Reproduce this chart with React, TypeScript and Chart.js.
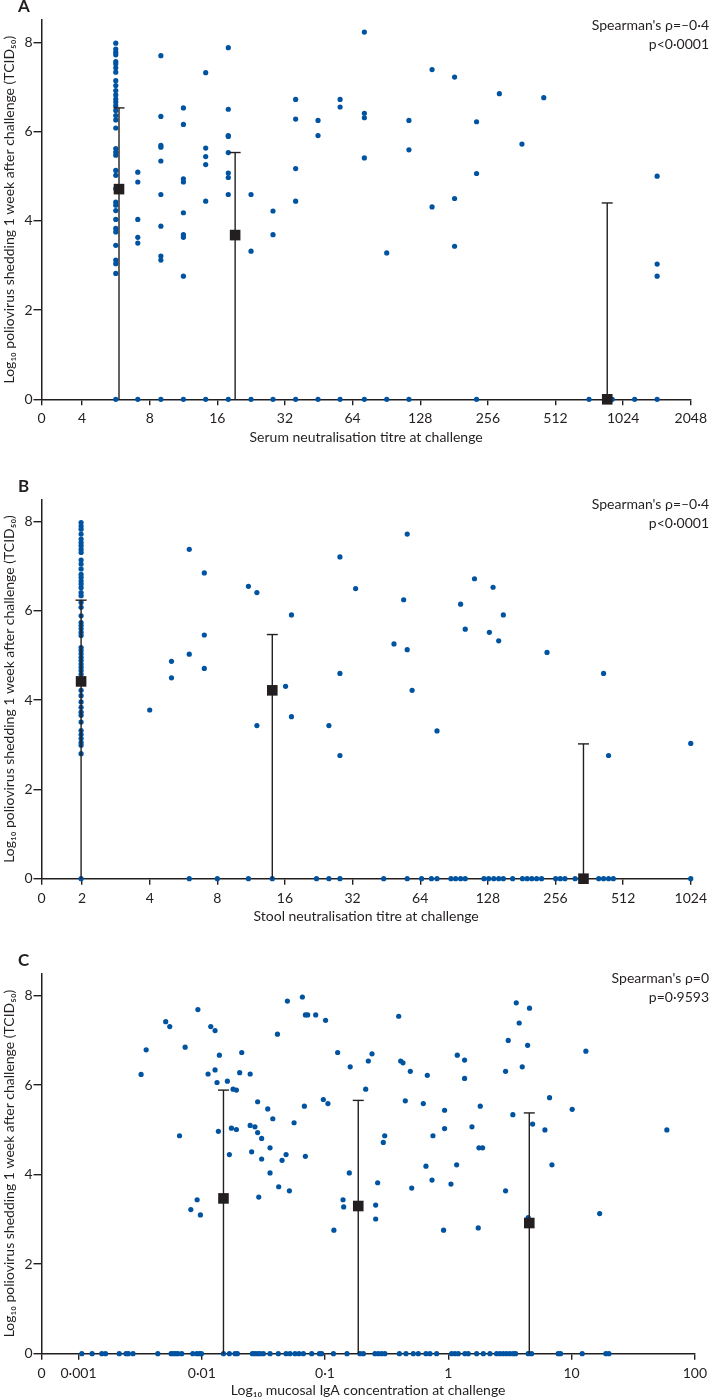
import { useEffect, useRef } from 'react';
import { Chart, registerables } from 'chart.js';

Chart.register(...registerables);

const INK = '#231f20';
const DOT = '#0053a0';
const FONT = 'Lato, "Open Sans", "DejaVu Sans", sans-serif';

const Y_TITLE = 'Log\u2081\u2080 poliovirus shedding 1 week after challenge (TCID\u2085\u2080)';
const Y_TICKS = [0, 2, 4, 6, 8];

// ---------- Panel A: serum neutralisation titre ----------
const serumColumnTitre = [5.65, 7.08, 8.97, 11.3, 14.2, 17.9, 22.6, 28.3, 35.7, 44.9, 56.3, 72.2, 90.8, 114, 144.5, 182, 228, 288, 363, 454, 722, 916, 1152, 1451];
const serumColumnShedding = [
  [7.98, 7.85, 7.78, 7.72, 7.57, 7.52, 7.43, 7.33, 7.14, 7.03, 6.92, 6.82, 6.73, 6.66, 6.58, 6.47, 6.36, 6.26, 6.08, 5.62, 5.54, 5.47, 5.13, 5.02, 4.72, 4.42, 4.35, 4.23, 4.03, 3.83, 3.75, 3.45, 3.12, 3.04, 2.82, 0],
  [5.09, 4.87, 4.03, 3.63, 3.5, 0],
  [7.7, 6.34, 5.69, 5.65, 5.34, 4.59, 3.88, 3.21, 3.12, 0],
  [6.53, 6.16, 4.94, 4.87, 4.18, 3.69, 3.63, 2.76, 0],
  [7.32, 5.63, 5.44, 5.26, 4.44, 0],
  [7.88, 6.5, 5.91, 5.89, 5.53, 5.07, 4.97, 4.59, 0],
  [4.59, 3.32, 0],
  [4.22, 3.69, 0],
  [6.72, 6.28, 5.17, 4.44, 0],
  [6.25, 5.91, 0],
  [6.72, 6.55, 0],
  [8.23, 6.41, 6.31, 5.41, 0],
  [3.28, 0],
  [6.25, 5.59, 0],
  [7.39, 4.31],
  [7.22, 4.5, 3.43],
  [6.22, 5.06, 0],
  [6.85],
  [5.72],
  [6.76],
  [0],
  [0],
  [0],
  [5.0, 3.03, 2.76, 0],
];
const serumMeanTitre = [5.84, 19.2, 870];
const serumMeanShedding = [4.71, 3.68, 0];
const serumUpper = [6.53, 5.53, 4.4];
const serumTicks = [2.639, 4, 8, 16, 32, 64, 128, 256, 512, 1024, 2048];
const serumTickLabels = ['0', '4', '8', '16', '32', '64', '128', '256', '512', '1024', '2048'];

// ---------- Panel B: stool neutralisation titre ----------
const stoolColumnTitre = [1.98, 4.0, 5.0, 6.0, 7.0, 8.0, 11.0, 12.0, 14.05, 16.1, 17.1, 22.1, 25.1, 28.1, 33.0, 44.0, 48.9, 54, 56, 58.9, 64.9, 71.8, 76, 87.7, 92, 96.8, 101.5, 111.6, 123, 129, 130, 135, 136, 143, 150, 165, 182.5, 191.5, 200.8, 211, 222, 234.7, 256.4, 269, 282, 313, 398.6, 419, 441, 463, 1024];
const stoolColumnShedding = [
  [7.98, 7.9, 7.83, 7.72, 7.61, 7.53, 7.46, 7.38, 7.31, 7.14, 7.05, 6.94, 6.82, 6.75, 6.67, 6.6, 6.52, 6.41, 6.34, 6.19, 6.08, 5.89, 5.74, 5.67, 5.6, 5.52, 5.45, 5.18, 5.11, 5.04, 4.96, 4.89, 4.81, 4.74, 4.66, 4.58, 4.22, 4.1, 3.96, 3.84, 3.73, 3.66, 3.51, 3.32, 3.23, 3.14, 3.05, 2.99, 2.8, 0],
  [3.78],
  [4.87, 4.5],
  [7.38, 5.03, 0],
  [6.85, 5.46, 4.71],
  [0],
  [6.55, 0],
  [6.41, 3.43],
  [0],
  [4.31],
  [5.91, 3.63],
  [0],
  [3.43, 0],
  [7.21, 4.6, 2.76, 0],
  [6.5],
  [0],
  [5.26],
  [6.25],
  [7.72, 5.13, 0],
  [4.22],
  [0],
  [0],
  [3.31, 0],
  [0],
  [0],
  [6.15, 0],
  [5.59, 0],
  [6.72],
  [0],
  [0],
  [5.52],
  [6.53],
  [0],
  [5.33, 0],
  [5.91, 0],
  [0],
  [0],
  [0],
  [0],
  [0],
  [0],
  [5.07],
  [0],
  [0],
  [0],
  [0],
  [0],
  [4.6, 0],
  [2.76, 0],
  [0],
  [3.03, 0],
];
const stoolMeanTitre = [1.98, 14.05, 341];
const stoolMeanShedding = [4.42, 4.22, 0];
const stoolUpper = [6.24, 5.47, 3.02];
const stoolTicks = [1.3195, 2, 4, 8, 16, 32, 64, 128, 256, 512, 1024];
const stoolTickLabels = ['0', '2', '4', '8', '16', '32', '64', '128', '256', '512', '1024'];

// ---------- Panel C: mucosal IgA ----------
const igaShedderConc = [0.00322, 0.00354, 0.0051, 0.0055, 0.0066, 0.00733, 0.00815, 0.00917, 0.0093, 0.00975, 0.01125, 0.01183, 0.01282, 0.01282, 0.0133, 0.01364, 0.0139, 0.01614, 0.01675, 0.01794, 0.0174, 0.0191, 0.0191, 0.0203, 0.0211, 0.0247, 0.0247, 0.0254, 0.027, 0.0284, 0.0284, 0.029, 0.0306, 0.0306, 0.0343, 0.0358, 0.0358, 0.0377, 0.0411, 0.0421, 0.0448, 0.0483, 0.0495, 0.0514, 0.0561, 0.0655, 0.068, 0.0693, 0.0693, 0.0723, 0.084, 0.0969, 0.101, 0.1056, 0.118, 0.1266, 0.14, 0.1417, 0.1574, 0.16, 0.2137, 0.2245, 0.2405, 0.2575, 0.2575, 0.2673, 0.297, 0.305, 0.396, 0.411, 0.429, 0.448, 0.492, 0.505, 0.627, 0.659, 0.676, 0.738, 0.751, 0.916, 0.933, 0.933, 1.051, 1.169, 1.183, 1.356, 1.356, 1.556, 1.75, 1.773, 1.817, 1.898, 2.916, 2.916, 3.065, 3.34, 3.56, 3.76, 3.98, 4.4, 4.56, 4.45, 4.83, 6.08, 6.63, 6.93, 10.12, 13.07, 16.9, 59.3];
const igaShedding = [6.24, 6.79, 7.42, 7.31, 4.87, 6.85, 3.22, 3.44, 7.69, 3.1, 6.25, 7.31, 7.22, 6.34, 6.06, 4.97, 6.67, 6.09, 4.45, 5.91, 5.04, 5.89, 5.01, 6.28, 6.73, 6.25, 5.1, 4.51, 5.07, 5.63, 4.94, 3.5, 4.81, 4.35, 5.47, 4.6, 4.04, 5.25, 7.14, 3.73, 4.32, 4.45, 7.88, 3.64, 5.16, 7.97, 5.53, 4.41, 7.57, 7.57, 7.57, 5.68, 7.45, 5.59, 2.76, 6.73, 3.44, 3.28, 4.04, 6.41, 5.91, 6.54, 6.7, 3.32, 3.01, 3.82, 4.72, 4.87, 7.54, 6.54, 6.5, 5.65, 6.31, 3.7, 5.59, 4.19, 6.22, 3.88, 4.87, 2.76, 5.44, 5.03, 3.79, 4.22, 6.67, 6.56, 6.15, 5.07, 2.81, 4.6, 5.53, 4.6, 6.31, 3.64, 7.0, 5.34, 7.84, 7.39, 6.41, 6.89, 7.72, 3.04, 5.13, 5.0, 5.72, 4.22, 5.46, 6.76, 3.13, 5.0];
const igaNonShedderConc = [0.001064, 0.00129, 0.001546, 0.001656, 0.00214, 0.00243, 0.00254, 0.00277, 0.0044, 0.00564, 0.00589, 0.00615, 0.00642, 0.00688, 0.00845, 0.0091, 0.00957, 0.00994, 0.015, 0.01675, 0.01862, 0.01945, 0.02575, 0.027, 0.0284, 0.0297, 0.0316, 0.0358, 0.0418, 0.0483, 0.052, 0.0571, 0.0615, 0.0667, 0.078, 0.09, 0.094, 0.117, 0.1508, 0.192, 0.2046, 0.254, 0.2705, 0.288, 0.306, 0.401, 0.454, 0.52, 0.571, 0.659, 0.71, 0.804, 1.064, 1.133, 1.206, 1.365, 1.452, 1.698, 1.923, 2.177, 2.465, 2.624, 2.792, 2.971, 3.162, 3.365, 3.515, 4.45, 4.74, 7.79, 8.14, 12.2, 18.98, 20.1];
const igaMeanConc = [0.015, 0.186, 4.54];
const igaMeanShedding = [3.47, 3.3, 2.92];
const igaUpper = [5.89, 5.66, 5.38];
const igaTicks = [0.000501, 0.001, 0.01, 0.1, 1, 10, 100];
const igaTickLabels = ['0', '0\u00b7001', '0\u00b701', '0\u00b71', '1', '10', '100'];

type Pt = { x: number; y: number };

const fromColumns = (xs: number[], ys: number[][]): Pt[] =>
  xs.flatMap((x, i) => ys[i].map((y) => ({ x, y })));

const annotPlugin = {
  id: 'annot',
  afterDraw(chart: any, _args: any, opts: any) {
    const { ctx, chartArea } = chart;
    ctx.save();
    ctx.fillStyle = INK;
    ctx.textBaseline = 'middle';
    ctx.font = `bold 17px ${FONT}`;
    ctx.textAlign = 'left';
    ctx.fillText(opts.letter, 18, chartArea.top - 13);
    ctx.font = `14px ${FONT}`;
    ctx.textAlign = 'right';
    (opts.lines as string[]).forEach((l, i) => ctx.fillText(l, 709, chartArea.top + 5 + i * 19));
    ctx.restore();
  },
};

type PanelProps = {
  top: number;
  height: number;
  plotTop: number;
  plotBottom: number;
  letter: string;
  lines: string[];
  points: Pt[];
  meanX: number[];
  meanY: number[];
  upper: number[];
  ticks: number[];
  tickLabels: string[];
  xTitle: string;
};

function Panel(p: PanelProps) {
  const ref = useRef<HTMLCanvasElement | null>(null);
  useEffect(() => {
    if (!ref.current) return;
    const padTop = p.plotTop - p.top;
    const xAxisH = p.top + p.height - p.plotBottom;
    const titlePadBottom = Math.max(0, xAxisH - 38 - 8.4);
    const errorSets = p.meanX.map((x, i) => ({
      type: 'scatter' as const,
      data: [
        { x, y: 0 },
        { x, y: p.upper[i] },
      ],
      showLine: true,
      borderColor: INK,
      borderWidth: 1.4,
      pointStyle: 'line' as const,
      pointRadius: [0, 5.5],
      pointBorderColor: INK,
      pointBorderWidth: 1.4,
      pointBackgroundColor: INK,
      order: 1,
      clip: false as const,
    }));
    const chart = new Chart(ref.current, {
      type: 'scatter',
      data: {
        datasets: [
          {
            data: p.meanX.map((x, i) => ({ x, y: p.meanY[i] })),
            pointStyle: 'rect',
            pointRadius: 7.5,
            pointBackgroundColor: INK,
            backgroundColor: INK,
            pointBorderWidth: 0,
            order: 0,
            clip: false,
          } as any,
          ...errorSets,
          {
            data: p.points,
            pointRadius: 2.6,
            pointBackgroundColor: DOT,
            backgroundColor: DOT,
            pointBorderWidth: 0,
            order: 2,
            clip: false,
          } as any,
        ],
      },
      options: {
        animation: false,
        responsive: false,
        events: [],
        layout: { padding: { top: padTop, right: 17, bottom: 0, left: 0 } },
        plugins: {
          legend: { display: false },
          tooltip: { enabled: false },
          annot: { letter: p.letter, lines: p.lines },
        } as any,
        scales: {
          x: {
            type: 'logarithmic',
            min: p.ticks[0],
            max: p.ticks[p.ticks.length - 1],
            afterBuildTicks: (s: any) => {
              s.ticks = p.ticks.map((v) => ({ value: v }));
            },
            afterFit: (s: any) => {
              s.height = xAxisH;
            },
            grid: { drawOnChartArea: false, drawTicks: true, tickLength: 6, color: INK, lineWidth: 1.4 },
            border: { display: true, color: INK, width: 1.5 },
            ticks: {
              autoSkip: false,
              maxRotation: 0,
              minRotation: 0,
              padding: 5,
              color: INK,
              font: { family: FONT, size: 14 },
              callback: (_v: any, i: number) => p.tickLabels[i],
            },
            title: {
              display: true,
              text: p.xTitle,
              color: INK,
              font: { family: FONT, size: 14 },
              padding: { top: 0, bottom: titlePadBottom },
            },
          },
          y: {
            type: 'linear',
            min: 0,
            max: 8.5,
            afterBuildTicks: (s: any) => {
              s.ticks = Y_TICKS.map((v) => ({ value: v }));
            },
            afterFit: (s: any) => {
              s.width = 41.5;
            },
            grid: { drawOnChartArea: false, drawTicks: true, tickLength: 8, color: INK, lineWidth: 1.4 },
            border: { display: true, color: INK, width: 1.5 },
            ticks: {
              padding: 1,
              color: INK,
              font: { family: FONT, size: 14 },
              callback: (v: any) => String(v),
            },
            title: {
              display: true,
              text: Y_TITLE,
              color: INK,
              font: { family: FONT, size: 14 },
              padding: { top: 1, bottom: 0 },
            },
          },
        },
      },
      plugins: [annotPlugin],
    } as any);
    return () => chart.destroy();
  }, []);
  return (
    <canvas
      ref={ref}
      width={712}
      height={p.height}
      style={{ position: 'absolute', left: 0, top: p.top, width: 712, height: p.height }}
    />
  );
}

export default function App() {
  const serumPoints = fromColumns(serumColumnTitre, serumColumnShedding);
  const stoolPoints = fromColumns(stoolColumnTitre, stoolColumnShedding);
  const igaPoints: Pt[] = [
    ...igaShedderConc.map((x, i) => ({ x, y: igaShedding[i] })),
    ...igaNonShedderConc.map((x) => ({ x, y: 0 })),
  ];
  return (
    <div style={{ position: 'absolute', left: 0, top: 0, width: 712, height: 1399, background: '#fff' }}>
      <Panel
        top={0}
        height={446}
        plotTop={20}
        plotBottom={399.3}
        letter="A"
        lines={["Spearman's \u03c1=\u20130\u00b74", 'p<0\u00b70001']}
        points={serumPoints}
        meanX={serumMeanTitre}
        meanY={serumMeanShedding}
        upper={serumUpper}
        ticks={serumTicks}
        tickLabels={serumTickLabels}
        xTitle="Serum neutralisation titre at challenge"
      />
      <Panel
        top={452}
        height={474}
        plotTop={499.3}
        plotBottom={878.7}
        letter="B"
        lines={["Spearman's \u03c1=\u20130\u00b74", 'p<0\u00b70001']}
        points={stoolPoints}
        meanX={stoolMeanTitre}
        meanY={stoolMeanShedding}
        upper={stoolUpper}
        ticks={stoolTicks}
        tickLabels={stoolTickLabels}
        xTitle="Stool neutralisation titre at challenge"
      />
      <Panel
        top={930}
        height={469}
        plotTop={973.3}
        plotBottom={1353.7}
        letter="C"
        lines={["Spearman's \u03c1=0", 'p=0\u00b79593']}
        points={igaPoints}
        meanX={igaMeanConc}
        meanY={igaMeanShedding}
        upper={igaUpper}
        ticks={igaTicks}
        tickLabels={igaTickLabels}
        xTitle={'Log\u2081\u2080 mucosal IgA concentration at challenge'}
      />
    </div>
  );
}
